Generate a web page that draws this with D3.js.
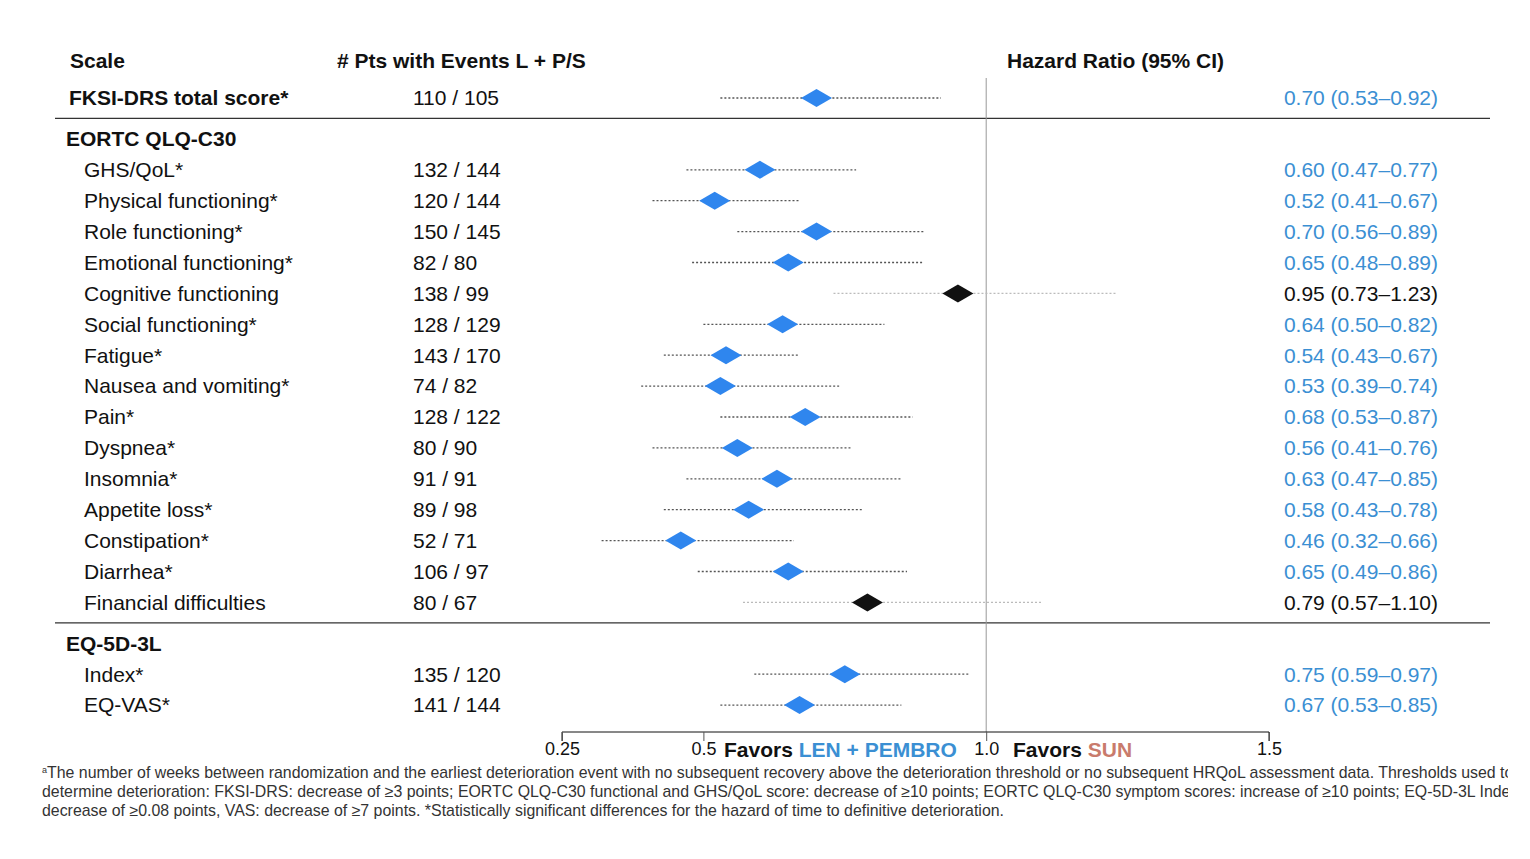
<!DOCTYPE html>
<head>
    <meta charset="utf-8">
    <title>Forest Plot</title>
    <script src="https://d3js.org/d3.v7.min.js"></script>
    <style>
        body { margin: 0; background: #fff; }
        svg { font-family: "Liberation Sans", Arial, sans-serif; }
    </style>
</head>
<body>
    <div id="container"></div>
    <script>
        //------------------------DATA------------------------//
        var scales = ["FKSI-DRS total score*", "EORTC QLQ-C30", "GHS/QoL*", "Physical functioning*", "Role functioning*",
            "Emotional functioning*", "Cognitive functioning", "Social functioning*", "Fatigue*", "Nausea and vomiting*",
            "Pain*", "Dyspnea*", "Insomnia*", "Appetite loss*", "Constipation*", "Diarrhea*", "Financial difficulties",
            "EQ-5D-3L", "Index*", "EQ-VAS*"];
        // row kind: "top" = bold main row, "head" = section heading, "sub" = indented item
        var kinds = ["top", "head", "sub", "sub", "sub", "sub", "sub", "sub", "sub", "sub",
            "sub", "sub", "sub", "sub", "sub", "sub", "sub", "head", "sub", "sub"];
        var events = ["110 / 105", "", "132 / 144", "120 / 144", "150 / 145", "82 / 80", "138 / 99", "128 / 129", "143 / 170",
            "74 / 82", "128 / 122", "80 / 90", "91 / 91", "89 / 98", "52 / 71", "106 / 97", "80 / 67", "", "135 / 120", "141 / 144"];
        var hr = [0.70, null, 0.60, 0.52, 0.70, 0.65, 0.95, 0.64, 0.54, 0.53, 0.68, 0.56, 0.63, 0.58, 0.46, 0.65, 0.79, null, 0.75, 0.67];
        var lower = [0.53, null, 0.47, 0.41, 0.56, 0.48, 0.73, 0.50, 0.43, 0.39, 0.53, 0.41, 0.47, 0.43, 0.32, 0.49, 0.57, null, 0.59, 0.53];
        var upper = [0.92, null, 0.77, 0.67, 0.89, 0.89, 1.23, 0.82, 0.67, 0.74, 0.87, 0.76, 0.85, 0.78, 0.66, 0.86, 1.10, null, 0.97, 0.85];
        var significant = [true, null, true, true, true, true, false, true, true, true, true, true, true, true, true, true, false, null, true, true];
        var xTicks = [0.25, 0.5, 1.0, 1.5];
        var footnotes = [
            "The number of weeks between randomization and the earliest deterioration event with no subsequent recovery above the deterioration threshold or no subsequent HRQoL assessment data. Thresholds used to",
            "determine deterioration: FKSI-DRS: decrease of \u22653 points; EORTC QLQ-C30 functional and GHS/QoL score: decrease of \u226510 points; EORTC QLQ-C30 symptom scores: increase of \u226510 points; EQ-5D-3L Index:",
            "decrease of \u22650.08 points, VAS: decrease of \u22657 points. *Statistically significant differences for the hazard of time to definitive deterioration."
        ];

        //------------------------SETUP------------------------//
        var width = 1530, height = 859;
        var blue = "#3b8fd3", diamondBlue = "#2f86ee", salmon = "#c97b6c";
        var rowStep = 30.9, sectionGap = 10, firstRowY = 98;
        var fs = "21px";

        var svg = d3.select("#container").append("svg")
            .attr("width", width).attr("height", height);

        var x = d3.scaleLinear().domain([0.25, 1.5]).range([562, 1269]);

        // row y positions: extra gap before each section heading
        var rowY = [];
        var yy = firstRowY;
        kinds.forEach(function (k, i) {
            if (i > 0) yy += rowStep + (k === "head" ? sectionGap : 0);
            rowY.push(yy);
        });

        //------------------------HEADERS------------------------//
        var headers = [
            { t: "Scale", x: 70 },
            { t: "# Pts with Events L + P/S", x: 337 },
            { t: "Hazard Ratio (95% CI)", x: 1007 }
        ];
        svg.selectAll(".hdr").data(headers).enter().append("text")
            .attr("class", "hdr")
            .attr("x", function (d) { return d.x; })
            .attr("y", 61)
            .attr("dy", "0.35em")
            .style("font-size", fs)
            .style("font-weight", "bold")
            .style("fill", "#111")
            .text(function (d) { return d.t; });

        //------------------------SEPARATORS------------------------//
        var sepIdx = kinds.map(function (k, i) { return k === "head" ? i : -1; }).filter(function (i) { return i > 0; });
        svg.selectAll(".sep").data(sepIdx).enter().append("line")
            .attr("x1", 55).attr("x2", 1490)
            .attr("y1", function (i) { return (rowY[i - 1] + rowY[i]) / 2; })
            .attr("y2", function (i) { return (rowY[i - 1] + rowY[i]) / 2; })
            .style("stroke", "#333").style("stroke-width", 1.3);

        // reference line at HR = 1
        svg.append("line")
            .attr("x1", x(1)).attr("x2", x(1))
            .attr("y1", 78).attr("y2", 732)
            .style("stroke", "#999").style("stroke-width", 1);

        //------------------------ROWS------------------------//
        var rows = svg.selectAll(".row").data(scales.map(function (s, i) { return i; }))
            .enter().append("g").attr("class", "row")
            .attr("transform", function (i) { return "translate(0," + rowY[i] + ")"; });

        rows.append("text")
            .attr("x", function (i) { return kinds[i] === "sub" ? 84 : (kinds[i] === "top" ? 69 : 66); })
            .attr("dy", "0.35em")
            .style("font-size", fs)
            .style("font-weight", function (i) { return kinds[i] === "sub" ? "normal" : "bold"; })
            .style("fill", "#111")
            .text(function (i) { return scales[i]; });

        rows.append("text")
            .attr("x", 413)
            .attr("dy", "0.35em")
            .style("font-size", fs)
            .style("fill", "#111")
            .text(function (i) { return events[i]; });

        var dataRows = rows.filter(function (i) { return hr[i] !== null; });

        dataRows.append("line")
            .attr("x1", function (i) { return x(lower[i]); })
            .attr("x2", function (i) { return x(upper[i]); })
            .style("stroke", function (i) { return significant[i] ? "#555" : "#bbb"; })
            .style("stroke-width", 1.3)
            .style("stroke-dasharray", "2,2");

        dataRows.append("path")
            .attr("d", "M-15.5,0L0,-9L15.5,0L0,9Z")
            .attr("transform", function (i) { return "translate(" + x(hr[i]) + ",0)"; })
            .style("fill", function (i) { return significant[i] ? diamondBlue : "#111"; });

        dataRows.append("text")
            .attr("x", 1438)
            .attr("dy", "0.35em")
            .style("text-anchor", "end")
            .style("font-size", fs)
            .style("fill", function (i) { return significant[i] ? blue : "#111"; })
            .text(function (i) {
                return hr[i].toFixed(2) + " (" + lower[i].toFixed(2) + "\u2013" + upper[i].toFixed(2) + ")";
            });

        //------------------------AXIS------------------------//
        var axis = svg.append("g")
            .attr("transform", "translate(0,732)")
            .call(d3.axisBottom(x).tickValues(xTicks).tickSize(9).tickPadding(1)
                .tickFormat(function (d) { return d === 0.25 ? "0.25" : d.toFixed(1); }));
        axis.select(".domain").attr("d", "M" + x(0.25) + ",9V0H" + x(1.5) + "V9").style("stroke", "#111");
        axis.selectAll(".tick line").style("stroke", "#555");
        axis.selectAll(".tick text")
            .style("font-family", "Liberation Sans, Arial, sans-serif")
            .style("font-size", "18px").style("fill", "#111");

        var fav1 = svg.append("text").attr("x", 724).attr("y", 757)
            .style("font-size", fs).style("font-weight", "bold");
        fav1.append("tspan").style("fill", "#111").text("Favors ");
        fav1.append("tspan").style("fill", blue).text("LEN + PEMBRO");

        var fav2 = svg.append("text").attr("x", 1013).attr("y", 757)
            .style("font-size", fs).style("font-weight", "bold");
        fav2.append("tspan").style("fill", "#111").text("Favors ");
        fav2.append("tspan").style("fill", salmon).text("SUN");

        //------------------------FOOTNOTE------------------------//
        svg.append("clipPath").attr("id", "fnclip")
            .append("rect").attr("x", 0).attr("y", 760).attr("width", 1508).attr("height", 80);

        var fn = svg.append("g").attr("clip-path", "url(#fnclip)");
        var fnText = fn.selectAll("text").data(footnotes).enter().append("text")
            .attr("x", 42)
            .attr("y", function (d, i) { return 778 + i * 19; })
            .style("font-family", "'Liberation Sans', Arial, sans-serif")
            .style("font-size", "15.9px")
            .style("fill", "#333");
        fnText.filter(function (d, i) { return i === 0; }).append("tspan")
            .attr("dy", "-5").style("font-size", "9px").text("a");
        fnText.append("tspan")
            .attr("dy", function (d, i) { return i === 0 ? 5 : 0; })
            .text(function (d) { return d; });
    </script>
</body>
